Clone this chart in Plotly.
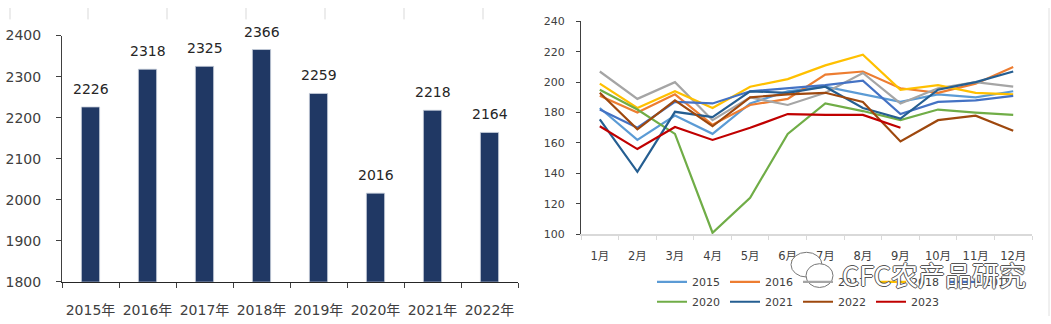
import plotly.graph_objects as go

# ---- left chart data ----
years = ["2015年", "2016年", "2017年", "2018年", "2019年", "2020年", "2021年", "2022年"]
totals = [2226, 2318, 2325, 2366, 2259, 2016, 2218, 2164]

# ---- right chart data ----
months = ["1月", "2月", "3月", "4月", "5月", "6月", "7月", "8月", "9月", "10月", "11月", "12月"]
s2015 = [183, 162, 178, 166, 186, 194, 197, 192, 187, 192, 190, 194]
s2016 = [191, 180, 192, 172, 185, 189, 205, 207, 196, 193, 199, 210]
s2017 = [207, 189, 200, 175, 190, 185, 193, 206, 186, 196, 200, 197]
s2018 = [199, 183, 194, 183, 197, 202, 211, 218, 195, 198, 193, 192]
s2019 = [182, 170, 187, 186, 194, 196, 198, 201, 179, 187, 188, 191]
s2020 = [195, 182, 166, 101, 124, 166, 186, 181, 175, 182, 180, 178.5]
s2021 = [175.5, 141, 180.5, 177, 194, 193, 197, 183, 176, 195, 200, 207]
s2022 = [193, 169, 188, 171, 190, 192, 193, 187, 161, 175, 178, 168]
s2023 = [171, 156, 170.5, 162, 170, 179, 178.5, 178.5, 170]
series_names = ["2015", "2016", "2017", "2018", "2019", "2020", "2021", "2022", "2023"]
series_values = [s2015, s2016, s2017, s2018, s2019, s2020, s2021, s2022, s2023]
series_colors = ["#5B9BD5", "#ED7D31", "#A5A5A5", "#FFC000", "#4472C4",
                 "#70AD47", "#255E91", "#9E480E", "#C00000"]
legend_rows = ["legend", "legend", "legend", "legend", "legend",
               "legend2", "legend2", "legend2", "legend2"]

W, H = 1051, 324
FONT = "DejaVu Sans, Noto Sans CJK SC, sans-serif"
CJK = "Noto Sans CJK SC"
TXT = "#404040"

fig = go.Figure()

fig.add_trace(go.Bar(
    x=years, y=totals, width=0.32,
    marker=dict(color="#203864", line=dict(color="#C9D0DC", width=0.8)),
    xaxis="x", yaxis="y", showlegend=False, hoverinfo="x+y",
))

for name, vals, col, lg in zip(series_names, series_values, series_colors, legend_rows):
    fig.add_trace(go.Scatter(
        x=months[:len(vals)], y=vals, name=name, mode="lines",
        line=dict(color=col, width=2.2),
        xaxis="x2", yaxis="y2", legend=lg,
    ))

annotations = []
for cat, v in zip(years, totals):
    annotations.append(dict(
        x=cat, y=v, xref="x", yref="y", text=str(v), showarrow=False,
        yshift=18, yanchor="middle",
        font=dict(family=FONT, size=14, color="#262626"),
    ))

# watermark (white text with dark outline)
annotations.append(dict(
    x=840 / W, y=1 - 280 / H, xref="paper", yref="paper", xanchor="left", yanchor="middle",
    text="CFC农产品研究", showarrow=False,
    font=dict(family=CJK, size=27, color="white",
              shadow="1px 0 0 #555, -1px 0 0 #555, 0 1px 0 #555, 0 -1px 0 #555"),
))

shapes = []
for px in [10, 88, 167, 246, 325, 404, 483]:
    shapes.append(dict(type="line", xref="paper", yref="paper",
                       x0=px / W, x1=px / W, y0=1, y1=1 - 12 / H,
                       line=dict(color="#D9D9D9", width=1)))
shapes.append(dict(type="line", xref="paper", yref="paper",
                   x0=1049 / W, x1=1049 / W, y0=1, y1=0,
                   line=dict(color="#E0E0E0", width=1)))
# wechat-style bubbles of the watermark
shapes.append(dict(type="circle", xref="paper", yref="paper",
                   x0=791 / W, x1=822 / W, y0=1 - 283 / H, y1=1 - 257 / H,
                   fillcolor="white", line=dict(color="#777", width=1)))
shapes.append(dict(type="circle", xref="paper", yref="paper",
                   x0=806 / W, x1=833 / W, y0=1 - 294 / H, y1=1 - 269 / H,
                   fillcolor="white", line=dict(color="#777", width=1)))

legend_common = dict(
    orientation="h", xanchor="left", yanchor="middle",
    font=dict(family=FONT, size=11, color=TXT), itemwidth=30, tracegroupgap=0,
    bgcolor="rgba(0,0,0,0)",
)

fig.update_layout(
    width=W, height=H,
    margin=dict(l=0, r=0, t=0, b=0),
    paper_bgcolor="white", plot_bgcolor="white",
    font=dict(family=FONT, color=TXT),
    xaxis=dict(
        domain=[62 / W, 518 / W], anchor="y", type="category",
        showline=True, linecolor="#262626", linewidth=1,
        ticks="outside", tickson="boundaries", ticklen=5, tickcolor="#404040",
        showgrid=False, tickfont=dict(family=FONT, size=14, color=TXT), tickangle=0,
        ticklabelstandoff=15,
    ),
    yaxis=dict(
        domain=[1 - 288 / H, 1 - 29 / H], anchor="x", range=[1800, 2400],
        dtick=100, showline=True, linecolor="#404040", linewidth=1,
        ticks="outside", ticklen=5, tickcolor="#404040", showgrid=False,
        zeroline=False, tickfont=dict(family=FONT, size=14, color=TXT),
        ticklabelstandoff=12,
    ),
    xaxis2=dict(
        domain=[581 / W, 1032 / W], anchor="y2", type="category",
        range=[-0.5, 11.5],
        showline=True, linecolor="#D9D9D9", linewidth=1.5,
        ticks="outside", tickson="boundaries", ticklen=4, tickcolor="#D9D9D9",
        showgrid=False, tickfont=dict(family=FONT, size=11.5, color=TXT), tickangle=0,
        ticklabelstandoff=10,
    ),
    yaxis2=dict(
        domain=[1 - 238 / H, 1 - 14 / H], anchor="x2", range=[100, 240],
        dtick=20, showline=True, linecolor="#404040", linewidth=1,
        ticks="outside", ticklen=4, tickcolor="#404040", showgrid=False,
        zeroline=False, tickfont=dict(family=FONT, size=11, color=TXT),
        ticklabelstandoff=9,
    ),
    legend=dict(x=652 / W, y=1 - 288 / H, **legend_common),
    legend2=dict(x=652 / W, y=1 - 309 / H, **legend_common),
    annotations=annotations,
    shapes=shapes,
)

fig.write_html("out.html")
